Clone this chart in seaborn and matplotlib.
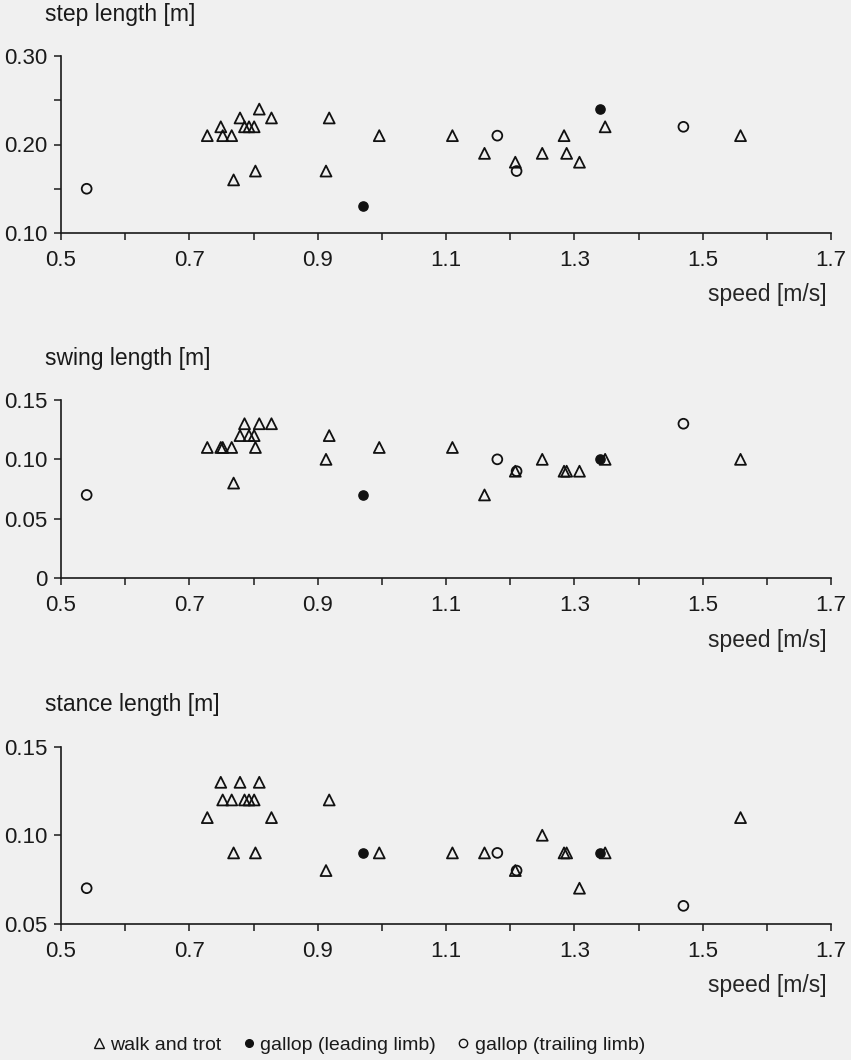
import numpy as np
import pandas as pd
import matplotlib
matplotlib.use("Agg")
import matplotlib.pyplot as plt
from matplotlib.lines import Line2D
import seaborn as sns

# ---------------- data ----------------
walk_speed = [0.728, 0.749, 0.752, 0.766, 0.769, 0.779, 0.786, 0.793, 0.801, 0.803,
              0.809, 0.828, 0.913, 0.918, 0.996, 1.110, 1.160, 1.208, 1.250, 1.284,
              1.288, 1.308, 1.348, 1.559]
walk_step = [0.21, 0.22, 0.21, 0.21, 0.16, 0.23, 0.22, 0.22, 0.22, 0.17,
             0.24, 0.23, 0.17, 0.23, 0.21, 0.21, 0.19, 0.18, 0.19, 0.21,
             0.19, 0.18, 0.22, 0.21]
walk_swing = [0.11, 0.11, 0.11, 0.11, 0.08, 0.12, 0.13, 0.12, 0.12, 0.11,
              0.13, 0.13, 0.10, 0.12, 0.11, 0.11, 0.07, 0.09, 0.10, 0.09,
              0.09, 0.09, 0.10, 0.10]
walk_stance = [0.11, 0.13, 0.12, 0.12, 0.09, 0.13, 0.12, 0.12, 0.12, 0.09,
               0.13, 0.11, 0.08, 0.12, 0.09, 0.09, 0.09, 0.08, 0.10, 0.09,
               0.09, 0.07, 0.09, 0.11]

lead_speed = [0.97, 1.34]
lead_step = [0.13, 0.24]
lead_swing = [0.07, 0.10]
lead_stance = [0.09, 0.09]

trail_speed = [0.54, 1.18, 1.21, 1.47]
trail_step = [0.15, 0.21, 0.17, 0.22]
trail_swing = [0.07, 0.10, 0.09, 0.13]
trail_stance = [0.07, 0.09, 0.08, 0.06]

gait_names = ["walk and trot", "gallop (leading limb)", "gallop (trailing limb)"]
panel_titles = ["step length [m]", "swing length [m]", "stance length [m]"]
x_label = "speed [m/s]"
x_major = [0.5, 0.7, 0.9, 1.1, 1.3, 1.5, 1.7]
x_major_labels = ["0.5", "0.7", "0.9", "1.1", "1.3", "1.5", "1.7"]
x_minor = [0.6, 0.8, 1.0, 1.2, 1.4, 1.6]
y_ticks = [[0.10, 0.20, 0.30], [0.0, 0.05, 0.10, 0.15], [0.05, 0.10, 0.15]]
y_tick_labels = [["0.10", "0.20", "0.30"], ["0", "0.05", "0.10", "0.15"],
                 ["0.05", "0.10", "0.15"]]
y_minor = [[0.15, 0.25], [], []]
y_limits = [(0.10, 0.30), (0.0, 0.15), (0.05, 0.15)]

# ---------------- build tidy table ----------------
rows = []
for gait, sp, st, sw, sn in [
    (gait_names[0], walk_speed, walk_step, walk_swing, walk_stance),
    (gait_names[1], lead_speed, lead_step, lead_swing, lead_stance),
    (gait_names[2], trail_speed, trail_step, trail_swing, trail_stance),
]:
    for i in range(len(sp)):
        rows.append({"gait": gait, "speed": sp[i], "step": st[i],
                     "swing": sw[i], "stance": sn[i]})
df = pd.DataFrame(rows)
measures = ["step", "swing", "stance"]

# ---------------- style ----------------
sns.set_style("ticks")
bg = "#f0f0f0"
plt.rcParams["font.family"] = ["Liberation Sans", "DejaVu Sans"]
plt.rcParams["axes.edgecolor"] = "#1a1a1a"
plt.rcParams["xtick.color"] = "#1a1a1a"
plt.rcParams["ytick.color"] = "#1a1a1a"
plt.rcParams["text.color"] = "#1a1a1a"

W, H = 851, 1060
fig = plt.figure(figsize=(W / 100, H / 100), dpi=100, facecolor=bg)

# axes boxes in pixels: (left, top, right, bottom)
boxes = [(61, 56, 831, 233), (61, 400, 831, 578), (61, 747, 831, 923.5)]
title_y = [15, 359, 705]

marker_style = {
    gait_names[0]: dict(marker="^", facecolor="none", edgecolor="#111111", s=62, linewidth=1.3),
    gait_names[1]: dict(marker="o", facecolor="#111111", edgecolor="#111111", s=44, linewidth=1.0),
    gait_names[2]: dict(marker="o", facecolor="none", edgecolor="#111111", s=50, linewidth=1.3),
}

for k, m in enumerate(measures):
    l, t, r, b = boxes[k]
    ax = fig.add_axes([l / W, 1 - b / H, (r - l) / W, (b - t) / H])
    ax.set_facecolor(bg)
    for g in gait_names:
        sub = df[df["gait"] == g]
        sns.scatterplot(data=sub, x="speed", y=m, ax=ax, legend=False,
                        zorder=3, clip_on=False, **marker_style[g])
    ax.set_xlim(0.5, 1.7)
    ax.set_ylim(*y_limits[k])
    ax.set_xticks(x_major)
    ax.set_xticklabels(x_major_labels)
    ax.set_xticks(x_minor, minor=True)
    ax.set_yticks(y_ticks[k])
    ax.set_yticklabels(y_tick_labels[k])
    ax.set_yticks(y_minor[k], minor=True)
    for side in ["top", "right"]:
        ax.spines[side].set_visible(False)
    for side in ["left", "bottom"]:
        ax.spines[side].set_linewidth(1.2)
    ax.tick_params(which="both", direction="out", length=5, width=1.1,
                   labelsize=16)
    ax.tick_params(axis="x", which="both", pad=7.5)
    ax.tick_params(axis="y", which="both", pad=4.5)
    ax.set_ylabel("")
    ax.set_xlabel(x_label, fontsize=16.5, ha="right", va="center")
    ax.xaxis.set_label_coords(1.0 - 4 / (r - l), -62 / (b - t))
    fig.text(45 / W, 1 - title_y[k] / H, panel_titles[k], fontsize=16.5,
             ha="left", va="center")

handles = [
    Line2D([], [], marker="^", linestyle="none", markerfacecolor="none",
           markeredgecolor="#111111", markersize=6.5, markeredgewidth=1.0),
    Line2D([], [], marker="o", linestyle="none", markerfacecolor="#111111",
           markeredgecolor="#111111", markersize=5.5),
    Line2D([], [], marker="o", linestyle="none", markerfacecolor="none",
           markeredgecolor="#111111", markersize=6, markeredgewidth=1.0),
]
fig.legend(handles, gait_names, loc="center", bbox_to_anchor=(368 / W, 1 - 1045 / H),
           ncol=3, frameon=False, fontsize=14, handletextpad=0.2,
           columnspacing=1.0, handlelength=0.8)

fig.savefig("out.png", dpi=100, facecolor=bg)
